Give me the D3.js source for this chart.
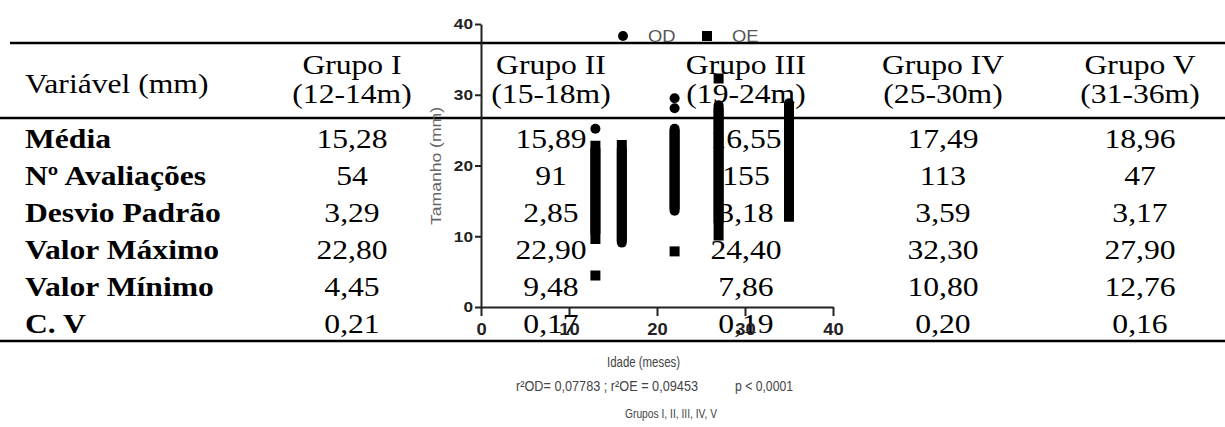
<!DOCTYPE html>
<html>
<head>
<meta charset="utf-8">
<script src="https://cdn.jsdelivr.net/npm/d3@7"></script>
<style>
  body { margin: 0; background: #fff; }
  svg { display: block; }
</style>
</head>
<body>
<div id="chart"></div>
<script>
// === Table data ===
const groups = ["Grupo I", "Grupo II", "Grupo III", "Grupo IV", "Grupo V"];
const ageRanges = ["(12-14m)", "(15-18m)", "(19-24m)", "(25-30m)", "(31-36m)"];
const rowLabels = ["Média", "Nº Avaliações", "Desvio Padrão", "Valor Máximo", "Valor Mínimo", "C. V"];
const media = ["15,28", "15,89", "16,55", "17,49", "18,96"];
const avaliacoes = ["54", "91", "155", "113", "47"];
const desvio = ["3,29", "2,85", "3,18", "3,59", "3,17"];
const maximo = ["22,80", "22,90", "24,40", "32,30", "27,90"];
const minimo = ["4,45", "9,48", "7,86", "10,80", "12,76"];
const cv = ["0,21", "0,17", "0,19", "0,20", "0,16"];

// === Scatter data (stacked points read as solid runs) ===
const colAges = [13, 16, 22, 27, 35];
const odLow = [10.5, 9.1, 13.6, 12.0, 13.5];
const odHigh = [22.3, 22.3, 25.2, 28.5, 28.8];
const oeLow = [9.6, 10.0, 14.5, 10.1, 12.76];
const oeHigh = [22.8, 22.9, 24.4, 27.5, 27.9];
const odExtraAge = [13, 22, 22];
const odExtraVal = [25.2, 28.1, 29.5];
const oeExtraAge = [13, 22, 27];
const oeExtraVal = [4.45, 7.86, 32.3];
const xTicks = [0, 10, 20, 30, 40];
const yTicks = [0, 10, 20, 30, 40];

const width = 1225;
const height = 427;
const SX = 1.15; // the picture is stretched horizontally

const svg = d3.select("#chart")
  .append("svg")
  .attr("width", width)
  .attr("height", height)
  .style("font-family", "'Liberation Serif', 'Times New Roman', serif");

// --- table ---
const table = svg.append("g");
const colX = d3.scaleOrdinal().domain(groups).range([352, 551, 746, 943, 1140]);
const rowY = d3.scalePoint().domain(rowLabels).range([148, 333]);
const rows = [media, avaliacoes, desvio, maximo, minimo, cv];

function stretched(sel, x, y) {
  return sel.attr("transform", `translate(${x},${y}) scale(${SX},1)`);
}

table.append("text")
  .attr("font-size", 27.5)
  .text("Variável (mm)")
  .call(stretched, 25, 93);

groups.forEach((g, i) => {
  table.append("text")
    .attr("font-size", 27.5)
    .attr("text-anchor", "middle")
    .text(g)
    .call(stretched, colX(g), 74);
  table.append("text")
    .attr("font-size", 27.5)
    .attr("text-anchor", "middle")
    .text(ageRanges[i])
    .call(stretched, colX(g), 103);
});

rowLabels.forEach((label, r) => {
  table.append("text")
    .attr("font-size", 27.5)
    .attr("font-weight", "bold")
    .text(label)
    .call(stretched, 25, rowY(label));
  rows[r].forEach((v, i) => {
    table.append("text")
      .attr("font-size", 27.5)
      .attr("text-anchor", "middle")
      .text(v)
      .call(stretched, colX(groups[i]), rowY(label));
  });
});

table.append("g")
  .attr("stroke", "#000")
  .attr("stroke-width", 2.5)
  .selectAll("line")
  .data([[10, 43], [0, 118], [0, 341]])
  .join("line")
  .attr("x1", d => d[0])
  .attr("x2", width)
  .attr("y1", d => d[1])
  .attr("y2", d => d[1]);

// --- scatter chart on top ---
const chart = svg.append("g")
  .style("font-family", "'Liberation Sans', Arial, sans-serif");

const x = d3.scaleLinear().domain([0, 40]).range([481, 833]);
const y = d3.scaleLinear().domain([0, 40]).range([307, 24]);

// X Axis
const xAxis = chart.append("g")
  .attr("transform", `translate(0,${y(0)})`)
  .call(d3.axisBottom(x).tickValues(xTicks).tickSize(9).tickSizeOuter(0).tickPadding(8));
// Y Axis
const yAxis = chart.append("g")
  .attr("transform", `translate(${x(0)},0)`)
  .call(d3.axisLeft(y).tickValues(yTicks).tickSize(6).tickSizeOuter(0).tickPadding(2));

[xAxis, yAxis].forEach(ax => {
  ax.selectAll("path, line").attr("stroke", "#222").attr("stroke-width", 2);
  ax.selectAll("text")
    .attr("fill", "#222")
    .attr("font-weight", "bold")
    .style("font-family", "'Liberation Sans', Arial, sans-serif");
});
xAxis.selectAll("text").attr("font-size", 16).attr("transform", `scale(${SX},1)`);
yAxis.selectAll("text").attr("font-size", 15)
  .attr("x", -8 / SX)
  .attr("transform", `scale(${SX},1)`);

// runs of OE (squares) and OD (circles)
chart.append("g")
  .attr("stroke", "#000")
  .attr("stroke-width", 10)
  .attr("stroke-linecap", "square")
  .selectAll("line")
  .data(colAges)
  .join("line")
  .attr("x1", d => x(d)).attr("x2", d => x(d))
  .attr("y1", (d, i) => y(oeLow[i]))
  .attr("y2", (d, i) => y(oeHigh[i]));

chart.append("g")
  .attr("stroke", "#000")
  .attr("stroke-width", 10)
  .attr("stroke-linecap", "round")
  .selectAll("line")
  .data(colAges)
  .join("line")
  .attr("x1", d => x(d)).attr("x2", d => x(d))
  .attr("y1", (d, i) => y(odLow[i]))
  .attr("y2", (d, i) => y(odHigh[i]));

chart.append("g")
  .selectAll("circle")
  .data(odExtraAge)
  .join("circle")
  .attr("cx", d => x(d))
  .attr("cy", (d, i) => y(odExtraVal[i]))
  .attr("r", 5)
  .attr("fill", "#000");

chart.append("g")
  .selectAll("rect")
  .data(oeExtraAge)
  .join("rect")
  .attr("x", d => x(d) - 5)
  .attr("y", (d, i) => y(oeExtraVal[i]) - 5)
  .attr("width", 10)
  .attr("height", 10)
  .attr("fill", "#000");

// legend
const legend = chart.append("g");
legend.append("circle").attr("cx", 623).attr("cy", 36).attr("r", 5).attr("fill", "#000");
legend.append("text").attr("font-size", 16).attr("fill", "#555").text("OD").call(stretched, 648, 42);
legend.append("rect").attr("x", 702).attr("y", 31).attr("width", 10).attr("height", 10).attr("fill", "#000");
legend.append("text").attr("font-size", 16).attr("fill", "#555").text("OE").call(stretched, 732, 42);

// axis titles and notes
chart.append("text")
  .attr("font-size", 15)
  .attr("fill", "#666")
  .attr("text-anchor", "middle")
  .attr("textLength", 118)
  .attr("lengthAdjust", "spacingAndGlyphs")
  .attr("transform", "translate(441,166) rotate(-90)")
  .text("Tamanho  (mm)");

chart.append("text")
  .attr("x", 607).attr("y", 367)
  .attr("font-size", 15)
  .attr("fill", "#444")
  .attr("textLength", 73)
  .attr("lengthAdjust", "spacingAndGlyphs")
  .text("Idade  (meses)");

chart.append("text")
  .attr("x", 516).attr("y", 391)
  .attr("font-size", 14)
  .attr("fill", "#444")
  .attr("textLength", 182)
  .attr("lengthAdjust", "spacingAndGlyphs")
  .text("r²OD= 0,07783 ; r²OE = 0,09453");

chart.append("text")
  .attr("x", 735).attr("y", 391)
  .attr("font-size", 14)
  .attr("fill", "#444")
  .attr("textLength", 58)
  .attr("lengthAdjust", "spacingAndGlyphs")
  .text("p < 0,0001");

chart.append("text")
  .attr("x", 625).attr("y", 418)
  .attr("font-size", 12)
  .attr("fill", "#444")
  .attr("textLength", 92)
  .attr("lengthAdjust", "spacingAndGlyphs")
  .text("Grupos I, II, III, IV, V");
</script>
</body>
</html>
